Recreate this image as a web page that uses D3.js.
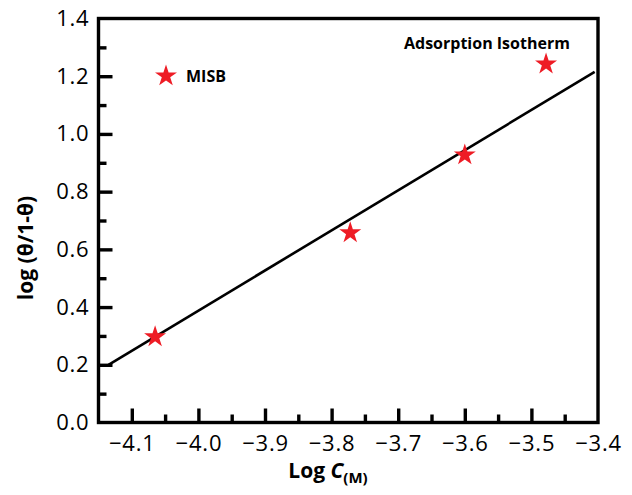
<!DOCTYPE html>
<html>
<head>
<meta charset="utf-8">
<script src="https://cdn.jsdelivr.net/npm/d3@7"></script>
<style>
	body { margin: 0; background: #fff; }
	text { font-family: "Open Sans", sans-serif; }
</style>
</head>
<body>
<div id="chart"></div>
<script>
const width = 632;
const height = 495;

// data
const logC = [-4.065, -3.772, -3.600, -3.478];
const logTheta = [0.297, 0.657, 0.927, 1.242];
const fitX = [-4.135, -3.405];
const fitY = [0.2, 1.215];
const xTicks = [-4.1, -4.0, -3.9, -3.8, -3.7, -3.6, -3.5, -3.4];
const xMinor = [-4.05, -3.95, -3.85, -3.75, -3.65, -3.55, -3.45];
const yTicks = [0.0, 0.2, 0.4, 0.6, 0.8, 1.0, 1.2, 1.4];
const yMinor = [0.1, 0.3, 0.5, 0.7, 0.9, 1.1, 1.3];

const margin = { top: 18.5, right: 34, bottom: 72.5, left: 98.5 };

const x = d3.scaleLinear().domain([-4.15, -3.4]).range([margin.left, width - margin.right]);
const y = d3.scaleLinear().domain([0, 1.4]).range([height - margin.bottom, margin.top]);

const svg = d3.select("#chart").append("svg")
	.attr("width", width)
	.attr("height", height);

const bottomY = y(0);
const leftX = x(-4.15);

// inward ticks, drawn with d3 axes
function tickAxis(axis, values, size, transform) {
	const g = svg.append("g")
		.attr("transform", transform)
		.call(axis.tickValues(values).tickSizeInner(-size).tickSizeOuter(0).tickFormat(""));
	g.select(".domain").remove();
	g.selectAll(".tick line").attr("stroke", "#000").attr("stroke-width", 3.4);
	g.selectAll(".tick text").remove();
}

tickAxis(d3.axisBottom(x), xTicks.slice(0, -1), 14, `translate(0,${bottomY})`);
tickAxis(d3.axisBottom(x), xMinor, 8, `translate(0,${bottomY})`);
tickAxis(d3.axisLeft(y), yTicks.slice(1, -1), 14, `translate(${leftX},0)`);
tickAxis(d3.axisLeft(y), yMinor, 8, `translate(${leftX},0)`);

// tick labels
const xLab = svg.append("g")
	.attr("transform", `translate(0,${bottomY})`)
	.call(d3.axisBottom(x).tickValues(xTicks).tickSize(0).tickPadding(13).tickFormat(d3.format(".1f")));
xLab.select(".domain").remove();
xLab.selectAll("text")
	.attr("font-family", "Open Sans, sans-serif")
	.attr("font-size", 22)
	.attr("letter-spacing", 0.8)
	.attr("fill", "#000");

const yLab = svg.append("g")
	.attr("transform", `translate(${leftX},0)`)
	.call(d3.axisLeft(y).tickValues(yTicks).tickSize(0).tickPadding(9).tickFormat(d3.format(".1f")));
yLab.select(".domain").remove();
yLab.selectAll("text")
	.attr("font-family", "Open Sans, sans-serif")
	.attr("font-size", 22)
	.attr("letter-spacing", 0.8)
	.attr("fill", "#000");

// frame
svg.append("rect")
	.attr("x", leftX).attr("y", y(1.4))
	.attr("width", x(-3.4) - leftX)
	.attr("height", bottomY - y(1.4))
	.attr("fill", "none")
	.attr("stroke", "#000")
	.attr("stroke-width", 3.4);

// fit line
svg.append("line")
	.attr("x1", x(fitX[0])).attr("y1", y(fitY[0]))
	.attr("x2", x(fitX[1])).attr("y2", y(fitY[1]))
	.attr("stroke", "#000")
	.attr("stroke-width", 2.6);

// stars
const star = d3.symbol().type(d3.symbolStar).size(150);
svg.append("g").selectAll("path").data(logC).join("path")
	.attr("transform", (d, i) => `translate(${x(d)},${y(logTheta[i])})`)
	.attr("d", star)
	.attr("fill", "#ee1c25");

// legend
svg.append("path")
	.attr("transform", "translate(166,76)")
	.attr("d", star)
	.attr("fill", "#ee1c25");
svg.append("text")
	.attr("x", 186).attr("y", 82)
	.attr("font-size", 16)
	.attr("font-weight", "bold")
	.attr("fill", "#000")
	.text("MISB");

svg.append("text")
	.attr("x", 404).attr("y", 49)
	.attr("font-size", 16)
	.attr("font-weight", "bold")
	.attr("fill", "#000")
	.text("Adsorption Isotherm");

// axis titles
const xt = svg.append("text")
	.attr("x", 328).attr("y", 478)
	.attr("text-anchor", "middle")
	.attr("font-size", 21)
	.attr("font-weight", "bold")
	.attr("fill", "#000");
xt.append("tspan").text("Log ");
xt.append("tspan").attr("font-style", "italic").text("C");
xt.append("tspan").attr("font-size", 15).attr("dy", 5).text("(M)");

svg.append("text")
	.attr("transform", "translate(33,248) rotate(-90)")
	.attr("text-anchor", "middle")
	.attr("font-size", 21)
	.attr("font-weight", "bold")
	.attr("fill", "#000")
	.text("log (θ/1-θ)");
</script>
</body>
</html>
